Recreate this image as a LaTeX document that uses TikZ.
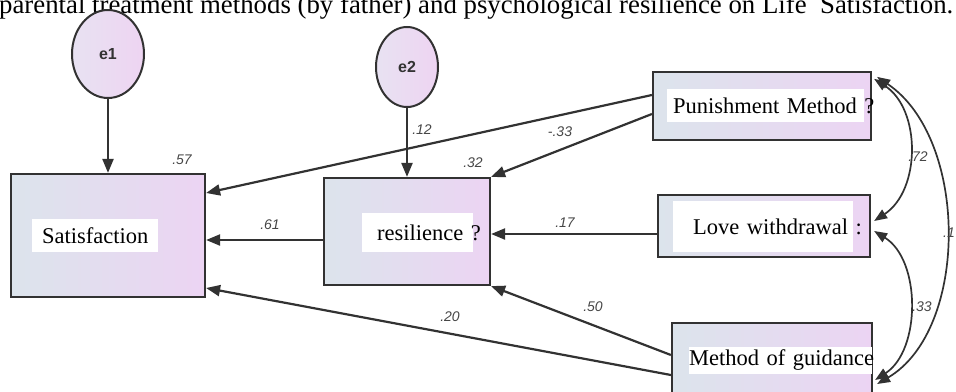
\documentclass[tikz,border=0pt]{standalone}
\usepackage{fontspec}
\setmainfont{Liberation Serif}
\setsansfont{Liberation Sans}
\usetikzlibrary{arrows.meta,shapes.geometric,calc}
\definecolor{boxL}{RGB}{220,228,236}
\definecolor{boxR}{RGB}{236,212,243}
\definecolor{ellL}{RGB}{232,226,242}
\definecolor{ellR}{RGB}{238,212,242}
\definecolor{edgecol}{RGB}{50,50,50}
\definecolor{lblcol}{RGB}{70,70,70}
\begin{document}
\begin{tikzpicture}[x=1pt,y=-1pt,
  varbox/.style={draw=edgecol, line width=2.2pt, left color=boxL, right color=boxR, rectangle, inner sep=0pt},
  errell/.style={draw=edgecol, line width=2pt, left color=ellL, right color=ellR, ellipse, inner sep=0pt},
  lbox/.style={fill=white, inner ysep=0pt, anchor=west, align=left, font=\fontsize{22.5}{24}\selectfont},
  conn/.style={draw=edgecol, line width=2.2pt, -{Triangle[length=14pt,width=11pt]}},
  biconn/.style={draw=edgecol, line width=1.7pt, {Triangle[length=13pt,width=10pt]}-{Triangle[length=13pt,width=10pt]}},
  coef/.style={font=\sffamily\itshape\fontsize{14}{15}\selectfont, text=lblcol, inner sep=0pt},
  errtext/.style={font=\sffamily\bfseries\fontsize{16}{17}\selectfont, text=black!80}]
\useasboundingbox (0,0) rectangle (956,391);
\clip (0,0) rectangle (956,391);

% title (cut at the top, as in the reference)
\node[anchor=base west, inner sep=0pt, font=\fontsize{26.8}{30}\selectfont] (title) at (-1,13)
  {parental treatment methods (by father) and psychological resilience on Life~~Satisfaction.};

% error terms
\node[errell, minimum width=72pt, minimum height=88pt] (e1) at (108,54) {};
\node[errtext] (e1t) at (108,54) {e1};
\node[errell, minimum width=62pt, minimum height=80pt] (e2) at (407,67) {};
\node[errtext] (e2t) at (407,67) {e2};

% boxes
\node[varbox, minimum width=194pt, minimum height=123pt] (sat) at (108,235.5) {};
\node[varbox, minimum width=166pt, minimum height=107pt] (res) at (407,231.5) {};
\node[varbox, minimum width=218pt, minimum height=68pt] (pun) at (762,106) {};
\node[varbox, minimum width=212pt, minimum height=62pt] (love) at (764,226) {};
\node[varbox, minimum width=200pt, minimum height=72pt] (meth) at (772,359) {};

% white labels
\node[lbox, inner xsep=10pt, text width=106pt, minimum height=33pt] (satl) at (32,235.5) {\rlap{Satisfaction}};
\node[lbox, inner xsep=15pt, text width=81pt, minimum height=39pt] (resl) at (362,232.5) {\rlap{resilience ?}};
\node[lbox, inner xsep=6pt, text width=185pt, minimum height=33pt] (punl) at (667,105.5) {\rlap{Punishment Method ?}};
\node[lbox, inner xsep=20pt, text width=140pt, minimum height=51pt] (lovel) at (673,226.5) {\rlap{Love withdrawal :}};
\node[lbox, inner xsep=0pt, text width=183pt, minimum height=27pt] (methl) at (689,360.5) {\rlap{Method of guidance}};

% regressions
\draw[conn] (e1) -- (sat);
\draw[conn] (e2) -- (res);
\draw[conn] ($(pun.west)+(0,-11)$) -- ($(sat.east)+(0,-42.5)$);
\draw[conn] ($(pun.west)+(0,8)$) -- (res.north east);
\draw[conn] ($(res.west)+(0,8.5)$) -- ($(sat.east)+(0,4.5)$);
\draw[conn] ($(love.west)+(0,8)$) -- ($(res.east)+(0,2.5)$);
\draw[conn] ($(meth.west)+(0,-4)$) -- (res.south east);
\draw[conn] ($(meth.west)+(0,16)$) -- ($(sat.east)+(0,52.5)$);

% covariances
\draw[biconn] ($(pun.north east)+(2,8)$) .. controls ($(pun.north east)+(49,38)$) and ($(love.east)+(50,-36)$) .. ($(love.east)+(3,-5)$);
\draw[biconn] ($(love.east)+(3,5)$) .. controls ($(love.east)+(50,34)$) and ($(meth.east)+(48,-9)$) .. ($(meth.east)+(2,21)$);
\draw[biconn] ($(pun.north east)+(5,6)$) .. controls ($(pun.north east)+(97,68)$) and ($(meth.east)+(96,-29)$) .. ($(meth.east)+(4,25)$);

% coefficients
\node[coef] (c57) at (182,160) {.57};
\node[coef] (c12) at (422,130) {.12};
\node[coef] (c32) at (473,163) {.32};
\node[coef] (c33a) at (560,132) {-.33};
\node[coef] (c61) at (270,225) {.61};
\node[coef] (c17) at (565,223) {.17};
\node[coef] (c50) at (593,307) {.50};
\node[coef] (c20) at (450,317) {.20};
\node[coef] (c72) at (918,157) {.72};
\node[coef] (c33b) at (922,307) {.33};
\node[coef, anchor=east] (c1) at (955,233) {.1};
\end{tikzpicture}
\end{document}
